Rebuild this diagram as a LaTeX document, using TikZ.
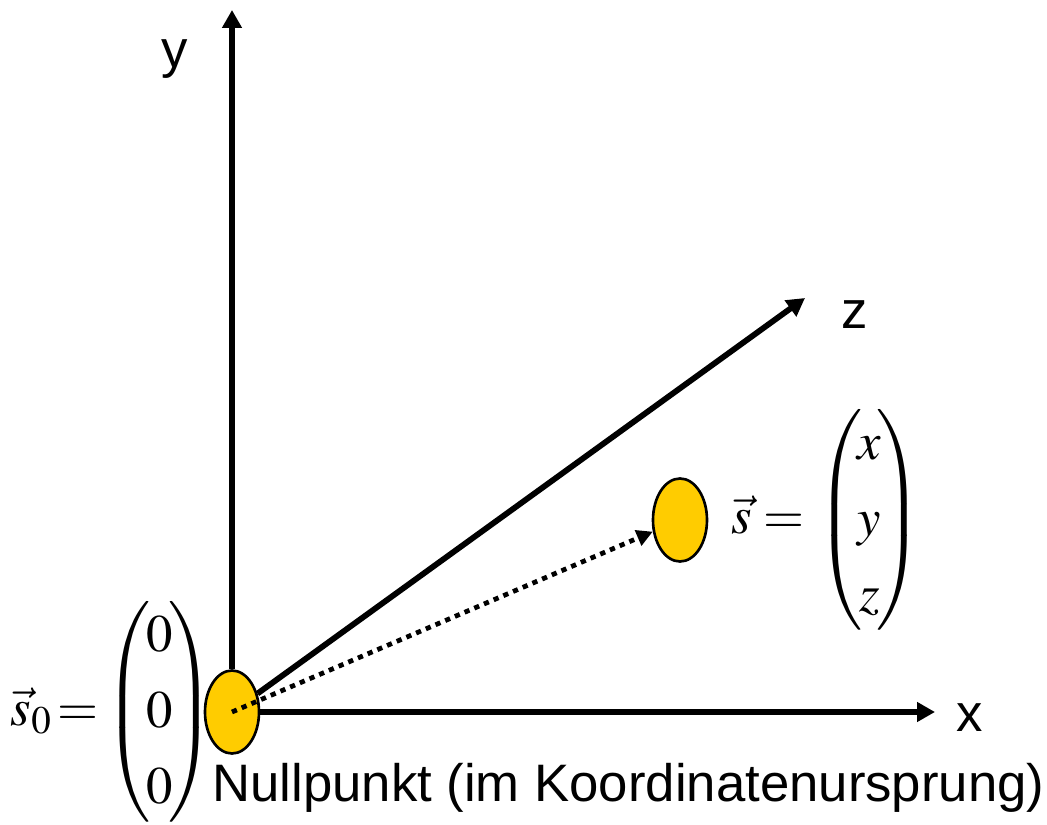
\documentclass[tikz,border=0pt]{standalone}
\usepackage{amsmath}
\usepackage{mathptmx}
\usepackage[no-math]{fontspec}
\setsansfont{Liberation Sans}
\usetikzlibrary{arrows.meta,positioning,shapes.geometric}
\definecolor{dotfill}{HTML}{FFCC00}
\newcommand\colvec[3]{\left(\mkern-1.5mu\begin{matrix}#1\\#2\\#3\end{matrix}\mkern-1.5mu\right)}
\begin{document}
\begin{tikzpicture}[
axis/.style={line width=3.3pt,-{Triangle[length=3.6mm,width=3.8mm]}},
dotted arrow/.style={line width=2.7pt,dash pattern=on 3pt off 3pt,-{Triangle[length=3.2mm,width=3.2mm]}},
point/.style={draw,line width=1.5pt,fill=dotfill,ellipse,inner sep=0pt,minimum width=10.8mm,minimum height=16.6mm},
lbl/.style={font=\fontsize{30}{36}\sffamily,inner sep=0pt},
vect/.style={font=\fontsize{30}{36}\selectfont,inner sep=0pt}
]
\useasboundingbox (-4.64,-2.24) rectangle (16.3,14.24);
\node[point] (o) at (0,0) {};
\node[point] (p) at (8.96,3.84) {};
\coordinate (ytip) at (0,14.04);
\coordinate (xtip) at (14.06,0);
\coordinate (ztip) at (11.46,8.28);
\draw[axis] (o) -- (ytip);
\draw[axis] (o) -- (xtip);
\draw[axis] (o) -- (ztip);
\draw[dotted arrow] (o.center) -- (p);
\node[lbl] (ylab) at (-1.14,13.05) {y};
\node[lbl] (zlab) at (12.46,7.94) {z};
\node[lbl] (xlab) at (14.76,-0.12) {x};
\node[vect,left=-0.22cm of o] (s0)
  {$\def\arraystretch{1.2}\vec s_0\mkern-2mu=\mkern-2mu\colvec000$};
\node[vect,right=0.45cm of p] (s)
  {$\def\arraystretch{1.2}\vec s=\colvec xyz$};
\node[lbl,below right=0.42cm and 0cm of o.south west] (null)
  {Nullpunkt (im Koordinatenursprung)};
\end{tikzpicture}
\end{document}
